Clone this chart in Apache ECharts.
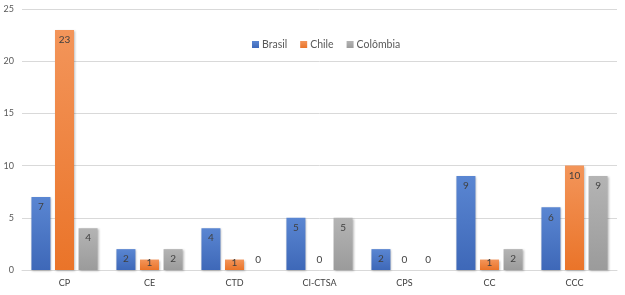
<!DOCTYPE html>
<html><head><meta charset="utf-8">
<script src="https://cdn.jsdelivr.net/npm/echarts@6/dist/echarts.min.js"></script>
<style>html,body{margin:0;padding:0;background:#fff}#c{width:625px;height:295px}</style>
</head><body><div id="c"></div>
<script>
var categories = ['CP','CE','CTD','CI-CTSA','CPS','CC','CCC'];
var brasil = [7,2,4,5,2,9,6];
var chile = [23,1,1,0,0,1,10];
var colombia = [4,2,0,5,0,2,9];
var yTicks = [0,5,10,15,20,25];

function grad(top, bottom){
  return new echarts.graphic.LinearGradient(0,0,0,1,[{offset:0,color:top},{offset:1,color:bottom}]);
}
function mk(name, vals, top, bottom){
  return {
    name: name, type: 'bar', barWidth: 19, barGap: '24%',
    data: vals.map(function(v){
      var lab;
      if (v === 0) lab = {position: 'top'};
      else if (v === 1) lab = {position: 'inside', offset: [0, -2]};
      else lab = {position: 'insideTop'};
      return {value: v, label: lab};
    }),
    itemStyle: {color: grad(top, bottom), shadowColor: 'rgba(0,0,0,0.25)', shadowBlur: 2, shadowOffsetX: 1, shadowOffsetY: 1},
    label: {show: true, fontSize: 10, color: '#404040', distance: 5, fontFamily: 'Lato'}
  };
}
var chart = echarts.init(document.getElementById('c'), null, {renderer:'canvas'});
chart.setOption({
  animation: false,
  color: ['#4472C4','#ED7D31','#A5A5A5'],
  textStyle: {fontFamily: 'Lato'},
  legend: {
    top: 34, left: 247, itemWidth: 7, itemHeight: 7, itemGap: 13,
    icon: 'rect',
    textStyle: {fontSize: 10.5, color: '#595959', fontFamily: 'Lato', padding: [0,0,0,-2]},
    data: ['Brasil','Chile','Colômbia']
  },
  grid: {left: 22, right: 8, top: 9, bottom: 25},
  xAxis: {
    type: 'category', data: categories,
    axisLine: {lineStyle: {color: '#d9d9d9'}},
    axisTick: {show: false},
    axisLabel: {fontSize: 9, color: '#404040', margin: 9}
  },
  yAxis: {
    type: 'value', min: yTicks[0], max: yTicks[yTicks.length-1], interval: 5,
    axisLine: {show: false}, axisTick: {show: false},
    splitLine: {lineStyle: {color: '#d9d9d9'}},
    axisLabel: {fontSize: 9, color: '#595959', margin: 8}
  },
  series: [
    mk('Brasil', brasil, '#5a86d2', '#3e68b8'),
    mk('Chile', chile, '#f3955a', '#ea7429'),
    mk('Colômbia', colombia, '#b4b4b4', '#9b9b9b')
  ]
});
</script></body></html>
